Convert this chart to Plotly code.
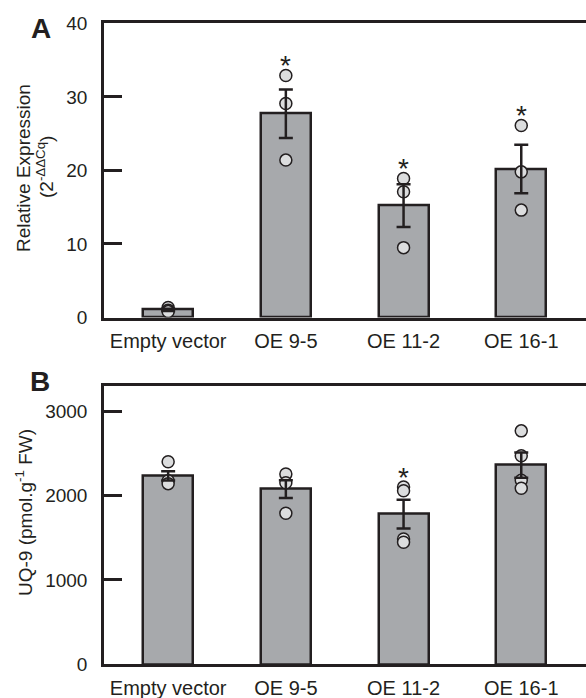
import plotly.graph_objects as go

# ---------------- data ----------------
categories = ["Empty vector", "OE 9-5", "OE 11-2", "OE 16-1"]

# Panel A: relative expression (2^-ΔΔCq)
expr_mean = [1.05, 27.7, 15.2, 20.2]
expr_se = [0.15, 3.3, 2.9, 3.3]
expr_points = [
    [1.35, 1.0, 0.8],
    [32.9, 29.1, 21.4],
    [18.9, 17.1, 9.5],
    [26.1, 19.8, 14.6],
]
expr_sig = [False, True, True, True]

# Panel B: UQ-9 content (pmol.g-1 FW)
uq_mean = [2232, 2075, 1779, 2359]
uq_se = [55, 105, 170, 150]
uq_points = [
    [2400, 2175, 2140],
    [2255, 2150, 1790],
    [2100, 2055, 1485, 1445],
    [2765, 2470, 2180, 2085],
]
uq_sig = [False, False, True, False]

# ---------------- style ----------------
INK = "#231f20"
BAR = "#a7a9ac"
DOT = "#dcddde"
FONT = "Arial, Liberation Sans, sans-serif"
W, H = 586, 698

fig = go.Figure()


def add_panel(means, ses, points, sig, xa, ya):
    fig.add_trace(go.Bar(
        x=categories, y=means, width=0.425,
        marker=dict(color=BAR, line=dict(color=INK, width=2.5)),
        xaxis=xa, yaxis=ya, showlegend=False, hoverinfo="skip",
    ))
    px, py = [], []
    for c, pts in zip(categories, points):
        px += [c] * len(pts)
        py += pts
    fig.add_trace(go.Scatter(
        x=px, y=py, mode="markers",
        marker=dict(size=12, color=DOT, line=dict(color=INK, width=1.5)),
        xaxis=xa, yaxis=ya, showlegend=False, hoverinfo="skip",
    ))
    fig.add_trace(go.Scatter(
        x=categories, y=means, mode="markers",
        marker=dict(size=1, opacity=0),
        error_y=dict(type="data", array=ses, color=INK, thickness=2.5, width=7),
        xaxis=xa, yaxis=ya, showlegend=False, hoverinfo="skip",
    ))
    for c, pts, s in zip(categories, points, sig):
        if s:
            fig.add_annotation(
                x=c, y=max(pts), xref=xa, yref=ya, text="*", showarrow=False,
                yshift=10, font=dict(family=FONT, size=28, color=INK),
            )


add_panel(expr_mean, expr_se, expr_points, expr_sig, "x", "y")
add_panel(uq_mean, uq_se, uq_points, uq_sig, "x2", "y2")

xdom = [104 / W, 1.0]
axis_common = dict(
    showline=True, linewidth=2.5, linecolor=INK, showgrid=False, zeroline=False,
)
xcommon = dict(axis_common, ticks="", mirror=True, range=[-0.545, 3.55],
               domain=xdom, type="category", ticklabelstandoff=4,
               tickfont=dict(family=FONT, size=20, color=INK))
ycommon = dict(axis_common, ticks="inside", ticklen=18, tickwidth=2.5, tickcolor=INK,
               ticklabelstandoff=10, tickfont=dict(family=FONT, size=19, color=INK))

fig.update_layout(
    width=W, height=H,
    margin=dict(l=0, r=0, t=0, b=0, autoexpand=False),
    paper_bgcolor="white", plot_bgcolor="white",
    bargap=0,
    xaxis=dict(xcommon, anchor="y"),
    yaxis=dict(ycommon, domain=[1 - 317.5 / H, 1 - 23.3 / H], range=[0, 40],
               tickvals=[0, 10, 20, 30, 40], anchor="x"),
    xaxis2=dict(xcommon, anchor="y2"),
    yaxis2=dict(ycommon, domain=[1 - 664.3 / H, 1 - 385.7 / H], range=[0, 3300],
                tickvals=[0, 1000, 2000, 3000], anchor="x2"),
)

# axis titles and panel letters
def paper_note(x, y, text, size, angle=0):
    fig.add_annotation(x=x / W, y=1 - y / H, xref="paper", yref="paper",
                       xanchor="center", yanchor="middle",
                       text=text, textangle=angle, showarrow=False,
                       font=dict(family=FONT, size=size, color=INK))


paper_note(24, 168, "Relative Expression", 19, -90)
paper_note(45, 167, "(2<sup>-ΔΔCq</sup>)", 19, -90)
paper_note(24, 513, "UQ-9 (pmol.g<sup>-1</sup> FW)", 19, -90)
paper_note(41, 28, "<b>A</b>", 28)
paper_note(40, 381, "<b>B</b>", 28)

fig.write_html(
    "out.html",
    config={"displayModeBar": False},
    post_script="document.body.style.margin='0';document.body.style.overflow='hidden';",
)
